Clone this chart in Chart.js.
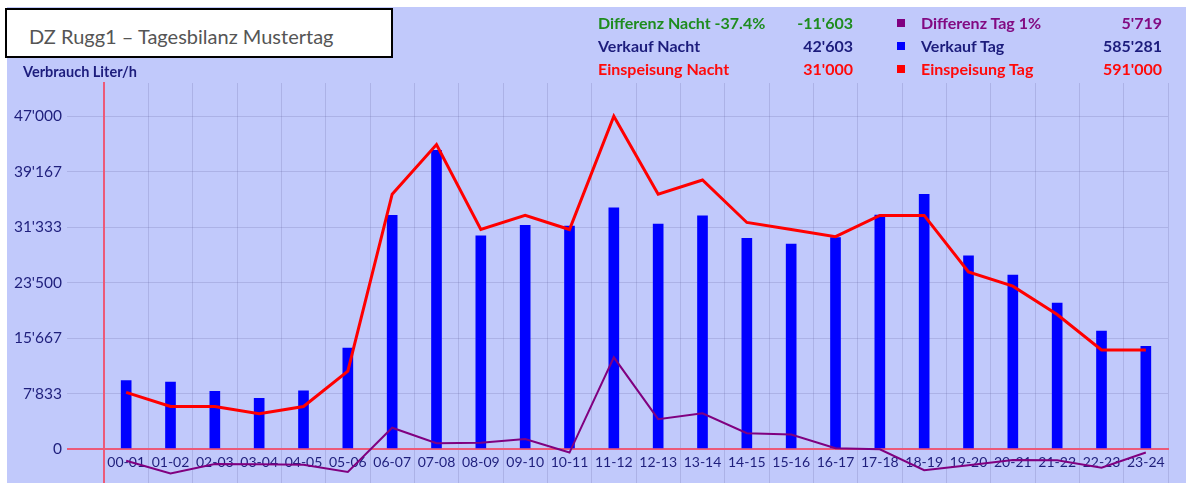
<!DOCTYPE html>
<html lang="de">
<head>
<meta charset="utf-8">
<title>DZ Rugg1 – Tagesbilanz Mustertag</title>
<script src="https://cdn.jsdelivr.net/npm/chart.js@4"></script>
<style>
  html, body { margin: 0; padding: 0; background: #fff; }
  body { width: 1186px; height: 483px; position: relative; overflow: hidden; font-family: Lato, "Noto Sans", sans-serif; }
  .panel { position: absolute; left: 7px; top: 7px; right: 0; bottom: 0; background: #c1c9fb; }
  #chartBox { position: absolute; left: 0; top: 0; width: 1186px; height: 498px; }
  .title-box {
    position: absolute; left: 5px; top: 8px; width: 362px; height: 46px;
    background: #fff; border: 2px solid #000;
    font-size: 20px; color: #555; line-height: 52px; padding-left: 22px; overflow: hidden;
  }
  .y-title { position: absolute; left: 23px; top: 62px; font-size: 14.5px; font-weight: bold; color: #1c1c7c; line-height: 20px; }
  .leg { position: absolute; font-size: 16px; font-weight: bold; line-height: 23px; white-space: nowrap; }
  .leg.r { text-align: right; }
  .sq { position: absolute; width: 8px; height: 8px; }
</style>
</head>
<body>
<div class="panel"></div>
<div id="chartBox"><canvas id="bilanzChart" width="1186" height="498"></canvas></div>
<div class="title-box">DZ Rugg1 – Tagesbilanz Mustertag</div>
<div class="y-title">Verbrauch Liter/h</div>
<div id="legend"></div>
<script>
'use strict'
// Stunden (x-Achse)
const hours = ["00-01", "01-02", "02-03", "03-04", "04-05", "05-06", "06-07", "07-08", "08-09", "09-10", "10-11", "11-12",
  "12-13", "13-14", "14-15", "15-16", "16-17", "17-18", "18-19", "19-20", "20-21", "21-22", "22-23", "23-24"];

// Verkauf pro Stunde (Balken)
const verkauf = [9650, 9450, 8130, 7150, 8223, 14250, 33000, 42180, 30100, 31600, 31500, 34050,
  31780, 32950, 29760, 28960, 29880, 33030, 35990, 27300, 24560, 20600, 16650, 14500];

// Einspeisung pro Stunde (rote Linie)
const einspeisung = [8000, 6000, 6000, 5000, 6000, 11000, 36000, 43000, 31000, 33000, 31000, 47000,
  36000, 38000, 32000, 31000, 30000, 33000, 33000, 25000, 23000, 19000, 14000, 14000];

// Differenz pro Stunde (violette Linie)
const differenz = [-1650, -3450, -2130, -2150, -2220, -3250, 3000, 820, 900, 1400, -500, 12950,
  4220, 5050, 2240, 2040, 120, -30, -2990, -2300, -1560, -1600, -2650, -500];

// y-Achse Ticks
const yTickValues = [0, 7833.33, 15666.67, 23500, 31333.33, 39166.67, 47000];
const yTickLabels = ["0", "7'833", "15'667", "23'500", "31'333", "39'167", "47'000"];

// Legende / Summen
const legendLeft = [
  { label: "Differenz Nacht -37.4%", value: "-11'603", color: "#1e8c1e" },
  { label: "Verkauf Nacht", value: "42'603", color: "#1c1c7c" },
  { label: "Einspeisung Nacht", value: "31'000", color: "#ff0a0a" },
];
const legendRight = [
  { label: "Differenz Tag 1%", value: "5'719", color: "#820a82", box: "#800080" },
  { label: "Verkauf Tag", value: "585'281", color: "#1c1c7c", box: "#0000ff" },
  { label: "Einspeisung Tag", value: "591'000", color: "#ff0a0a", box: "#ff0000" },
];

const navy = "#1f1f7c";
const axisRed = "#ec5a78";
const gridColor = "rgba(80, 80, 140, 0.18)";

// Legende zeichnen
const legend = document.getElementById("legend");
function addLegend(rows, labelX, valueRight, boxX) {
  rows.forEach((row, i) => {
    const top = 11 + i * 23;
    legend.innerHTML += `<div class="leg" style="left:${labelX}px;top:${top}px;color:${row.color}">${row.label}</div>`;
    legend.innerHTML += `<div class="leg r" style="right:${1186 - valueRight}px;top:${top}px;color:${row.color}">${row.value}</div>`;
    if (row.box) {
      legend.innerHTML += `<div class="sq" style="left:${boxX}px;top:${top + 8}px;background:${row.box}"></div>`;
    }
  });
}
addLegend(legendLeft, 598, 853);
addLegend(legendRight, 921, 1162, 897);

const ctx = document.getElementById("bilanzChart").getContext("2d");
new Chart(ctx, {
  data: {
    labels: hours,
    datasets: [
      {
        type: "line",
        label: "Einspeisung",
        data: einspeisung,
        borderColor: "#ff0000",
        borderWidth: 3,
        pointRadius: 0,
        tension: 0,
        order: 0,
      },
      {
        type: "line",
        label: "Differenz",
        data: differenz,
        borderColor: "#800080",
        borderWidth: 2,
        pointRadius: 0,
        tension: 0,
        order: 1,
      },
      {
        type: "bar",
        label: "Verkauf",
        data: verkauf,
        backgroundColor: "#0000ff",
        barThickness: 10,
        order: 2,
      },
    ],
  },
  options: {
    responsive: false,
    animation: false,
    layout: { padding: { top: 83, right: 18, bottom: 0, left: 0 } },
    plugins: { legend: { display: false }, tooltip: { enabled: false } },
    scales: {
      x: {
        position: { y: 0 },
        offset: true,
        grid: { offset: true, color: gridColor, drawTicks: false },
        border: { color: axisRed, width: 2 },
        ticks: { color: navy, font: { family: "Lato", size: 14 }, padding: 5, maxRotation: 0, autoSkip: false },
      },
      y: {
        min: -4900,
        max: 51700,
        afterFit: (scale) => { scale.width = 104; },
        afterBuildTicks: (scale) => { scale.ticks = yTickValues.map(v => ({ value: v })); },
        grid: {
          color: (c) => c.tick && c.tick.value === 0 ? axisRed : gridColor,
          tickColor: (c) => c.tick && c.tick.value === 0 ? axisRed : gridColor,
          lineWidth: (c) => c.tick && c.tick.value === 0 ? 2 : 1,
          tickLength: 37,
        },
        border: { color: axisRed, width: 2 },
        ticks: {
          color: navy,
          font: { family: "Lato", size: 15.5 },
          padding: 5,
          callback: (value, index) => yTickLabels[index],
        },
      },
    },
  },
});
</script>
</body>
</html>
